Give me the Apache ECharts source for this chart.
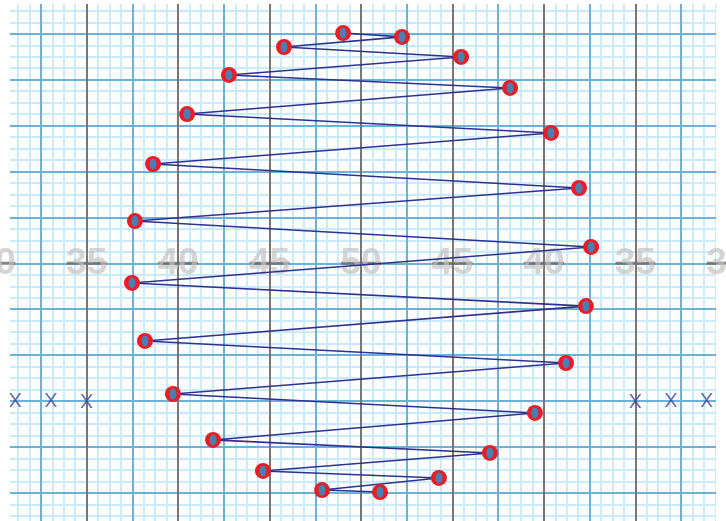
<!DOCTYPE html>
<html>
<head>
<meta charset="utf-8">
<script src="https://cdn.jsdelivr.net/npm/echarts@6/dist/echarts.min.js"></script>
<style>html,body{margin:0;padding:0;background:#fff;}#c{width:726px;height:521px;}</style>
</head>
<body>
<div id="c"></div>
<script>
// Path points (yards across field, yards from midline), in drawing order
var pathX = [49.02, 52.24, 45.79, 55.47, 42.78, 58.15, 40.49, 60.39, 38.63, 61.92, 37.64, 62.58,
             37.48, 62.30, 38.19, 61.21, 39.72, 59.51, 41.91, 57.05, 44.64, 54.26, 47.87, 51.04];
var pathY = [12.54, 12.33, 11.78, 11.24, 10.26, 9.55, 8.13, 7.10, 5.41, 4.10, 2.30, 0.89,
             -1.07, -2.33, -4.23, -5.43, -7.12, -8.15, -9.62, -10.33, -11.31, -11.69, -12.35, -12.46];
// Hash "X" marks
var hashX = [31.1, 33.05, 35.0, 65.0, 66.95, 68.9];
var hashY = [-7.45, -7.45, -7.5, -7.5, -7.45, -7.45];
// Yard lines and their labels
var yardLines = [30, 35, 40, 45, 50, 55, 60, 65, 70];
var yardLabels = ['30', '35', '40', '45', '50', '45', '40', '35', '30'];

var pathData = pathX.map(function (x, i) { return [x, pathY[i]]; });
var hashData = hashX.map(function (x, i) { return [x, hashY[i]]; });
var yardData = yardLines.map(function (x, i) { return { value: [x, 0], name: yardLabels[i] }; });

var XMIN = 30, XMAX = 70, YMIN = -15, YMAX = 15;
var minorC = '#c9ebfb', blueC = '#6cb1d6', grayC = '#7b7574';

function hidden(o) {
  o.axisLine = { show: false }; o.axisTick = { show: false }; o.axisLabel = { show: false };
  return o;
}

var chart = echarts.init(document.getElementById('c'), null, { renderer: 'canvas' });
chart.setOption({
  animation: false,
  backgroundColor: '#ffffff',
  grid: { left: -4.8, top: -12.1, width: 731.6, height: 550.8, containLabel: false, outerBoundsMode: 'none' },
  xAxis: [
    hidden({ type: 'value', min: XMIN, max: XMAX, interval: 0.625, z: 0,
      splitLine: { show: true, lineStyle: { color: minorC, width: 2 } } }),
    hidden({ type: 'value', min: XMIN, max: XMAX, interval: 2.5, z: 0.5,
      splitLine: { show: true, lineStyle: { color: [grayC, blueC], width: 2 } } })
  ],
  yAxis: [
    hidden({ type: 'value', min: YMIN, max: YMAX, interval: 0.625, z: 0,
      splitLine: { show: true, lineStyle: { color: minorC, width: 2 } } }),
    hidden({ type: 'value', min: YMIN, max: YMAX, interval: 2.5, z: 0.4,
      splitLine: { show: true, lineStyle: { color: blueC, width: 2 } } })
  ],
  graphic: [
    { type: 'rect', z: 1, shape: { x: 0, y: 0, width: 10, height: 521 }, style: { fill: '#fff' } },
    { type: 'rect', z: 1, shape: { x: 716, y: 0, width: 10, height: 521 }, style: { fill: '#fff' } },
    { type: 'rect', z: 1, shape: { x: 0, y: 0, width: 726, height: 4 }, style: { fill: '#fff' } }
  ],
  series: [
    {
      type: 'scatter', xAxisIndex: 1, yAxisIndex: 1, z: 3, silent: true,
      data: yardData,
      symbol: 'rect', symbolSize: [40, 3],
      itemStyle: { color: '#6e6868' },
      label: {
        show: true, position: 'inside',
        formatter: function (p) { return p.name; },
        fontFamily: 'Liberation Sans, Arial, sans-serif', fontWeight: 'bold', fontSize: 37,
        color: 'rgba(196,192,192,0.85)'
      }
    },
    {
      type: 'scatter', xAxisIndex: 1, yAxisIndex: 1, z: 4, silent: true,
      data: hashData,
      symbol: 'path://M0,0 L2,0 L12,14 L10,14 Z M10,0 L12,0 L2,14 L0,14 Z',
      symbolSize: [12, 14],
      itemStyle: { color: '#3d4396' }
    },
    {
      type: 'line', xAxisIndex: 1, yAxisIndex: 1, z: 5, silent: true,
      data: pathData,
      symbol: 'circle', symbolSize: 16, showAllSymbol: true,
      lineStyle: { color: '#2e3192', width: 1.6 },
      itemStyle: { color: '#ec1c24', borderWidth: 0 }
    },
    {
      type: 'scatter', xAxisIndex: 1, yAxisIndex: 1, z: 6, silent: true,
      data: pathData,
      symbol: 'circle', symbolSize: [7, 11],
      itemStyle: { color: '#1f9ad8' }
    }
  ]
});
</script>
</body>
</html>
